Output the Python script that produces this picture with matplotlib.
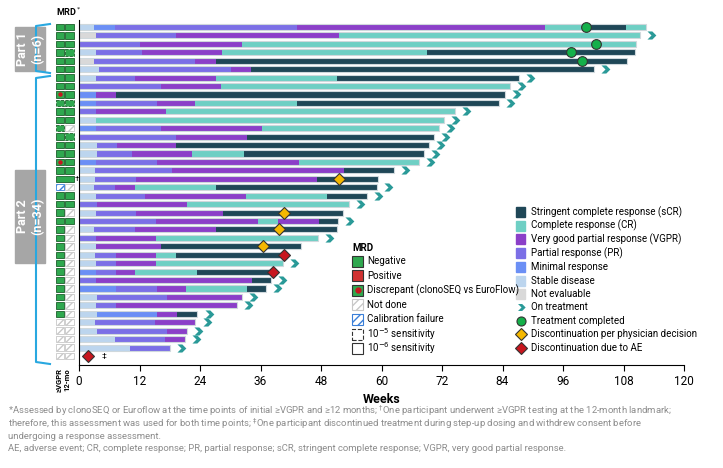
import numpy as np
import matplotlib.pyplot as plt
import matplotlib.patches as mpatches
from matplotlib.path import Path

plt.rcParams['font.family'] = ['Roboto', 'DejaVu Sans']

# response codes: S=sCR C=CR V=VGPR P=PR M=MR D=SD N=NE
colors = {'S': '#1f4757', 'C': '#6ecfc4', 'V': '#8b3fc8', 'P': '#7b6fe6',
          'M': '#6b8ff5', 'D': '#bcd5ee', 'N': '#d9d9d9'}

seg_codes = [
    'DMPVCSC', 'NPVC', 'PVC', 'DPVCS', 'NPVS', 'DPVS',
    'DPVCS', 'PVC', 'MVS', 'MPVCS', 'PVC', 'DC', 'MPVC', 'PVS', 'DPVS', 'DPVCS', 'MPVC',
    'DPVS', 'DPVS', 'DPVCS', 'DPVCS', 'PVC', 'DPVS', 'PVCVS', 'DPVS', 'PVC', 'DVS',
    'DPVCS', 'DPVC', 'MPVCS', 'PVS', 'MPVCS', 'DPV', 'DPV', 'DMVS', 'DPV', 'DPV', 'DPV', 'DP', '',
]
seg_ends = [
    [3, 7.1, 43.2, 92.5, 101.5, 108.5, 112.4], [3.3, 19.2, 51.6, 111.3], [12, 32.4, 110.4],
    [3.3, 12.4, 28.4, 69.1, 110.3], [3, 23.1, 27.2, 108.6], [4, 30.2, 34.1, 102.2],
    [3.3, 11.2, 27.2, 51.1, 87.2], [16.3, 28.2, 85.4], [3.3, 7.3, 84.5],
    [3.3, 15.4, 23.1, 43.3, 83.3], [3.3, 17.3, 74.6], [3.3, 72.3],
    [3.3, 16.3, 36.2, 71.4], [19.2, 33.3, 70.4], [3.5, 7.5, 19.2, 69.4],
    [3.5, 10.5, 22.4, 32.7, 68.5], [3.3, 15.4, 43.7, 67.5],
    [3.2, 18.5, 52.5, 62.5], [3.2, 11.3, 47.2, 59.4], [3, 7.1, 11.1, 27.2, 59.1],
    [3.3, 13.1, 33.1, 49.2, 57.1], [3.5, 21.4, 53.5], [3.3, 11.3, 28.6, 52.4],
    [15.2, 35.5, 39.5, 47.7, 51.4], [3, 11.1, 27.2, 51.1], [3.3, 15.3, 47.4],
    [3.3, 16.3, 44.1], [3.2, 7.3, 15.2, 19.2, 41.3], [3.3, 7.3, 15.3, 40.5],
    [3.3, 7.3, 11.2, 23.4, 38.5], [3.3, 34.3, 38.0], [7.3, 15.4, 21.2, 33.3, 37.1],
    [3.5, 17.5, 32.3], [3.3, 7.3, 31.3], [3.6, 15.5, 19.4, 23.5], [3.2, 15.1, 23.1],
    [3.5, 17.5, 21.5], [7.1, 17.1, 21.1], [10.2, 18.1], [],
]
on_treatment = [0, 1, 0, 0, 0, 1,
                1, 1, 1, 1, 1, 1, 1, 1, 1, 1, 1,
                1, 0, 1, 1, 1, 0, 1, 0, 1, 0,
                0, 1, 0, 1, 1, 1, 1, 1, 1, 1, 1, 1, 0]
# events: (row, week, kind) kind: c=completed, y=physician, r=AE
events = [(1, 100.6, 'c'), (3, 102.5, 'c'), (4, 97.5, 'c'), (5, 99.7, 'c'),
          (19, 51.6, 'y'), (23, 40.6, 'y'), (25, 39.7, 'y'), (27, 36.5, 'y'),
          (28, 40.6, 'r'), (30, 38.4, 'r'), (40, 1.8, 'r')]
# MRD status at >=VGPR and 12 mo: G neg, g neg 10^-5, D discrepant, N not done, C calibration failure
mrd_first = list('GGGGGGGGDgGGgGGGDGGCGGGGGGGGGGGGGGGNNNNN')
mrd_second = list('GGGgGGGGGgGGNgGGGGGNGGNGNNNNNNNNNNNNNNNN')

fig = plt.figure(figsize=(7.23, 4.68), dpi=100)
ax = fig.add_axes([79 / 723, 1 - 365 / 468, 605 / 723, 345 / 468])
n = len(seg_codes)
rows = np.arange(1, n + 1)
h = 0.72
for r, codes, ends in zip(rows, seg_codes, seg_ends):
    left = 0
    for c, e in zip(codes, ends):
        ax.barh(r, e - left, left=left, height=h, color=colors[c], edgecolor='none')
        left = e
    if ends:
        ax.barh(r, ends[-1], height=h, color='none', edgecolor='#cfd8dc', linewidth=0.8)

chevron = Path([(-0.5, 0.5), (0.1, 0.5), (0.6, 0), (0.1, -0.5), (-0.5, -0.5), (0, 0), (-0.5, 0.5)],
               [1, 2, 2, 2, 2, 2, 79])
for r, ends, on in zip(rows, seg_ends, on_treatment):
    if on:
        ax.plot(ends[-1] + 2.2, r, marker=chevron, ms=7, color='#2a9a98', mec='none')

ev_style = {'c': dict(marker='o', color='#14b04a', ms=7),
            'y': dict(marker='D', color='#f5b800', ms=6.5),
            'r': dict(marker='D', color='#c8161e', ms=6.5)}
for r, w, k in events:
    ax.plot(w, r, mec='#333333', mew=0.8, linestyle='none', zorder=5, **ev_style[k])
ax.text(4.5, 40, '‡', va='center', fontsize=6)

# MRD squares
def mrd_box(x0, r, s, wid=1.7):
    y0 = r - 0.38
    fc = {'G': '#2fa84f', 'g': '#2fa84f', 'D': '#2fa84f', 'N': 'white', 'C': 'white'}[s]
    hatch = {'N': '////', 'C': '////'}.get(s)
    hc = '#c8c8c8' if s == 'N' else '#3a7fd8'
    p = mpatches.Rectangle((x0, y0), wid, 0.76, facecolor=fc, edgecolor=hc if hatch else '#1d5e2c',
                           lw=0.6, hatch=hatch, clip_on=False, linestyle='--' if s == 'g' else '-')
    ax.add_patch(p)
    if s == 'D':
        ax.plot(x0 + wid / 2, r, 'o', color='#c8161e', ms=2.2, clip_on=False)

for r, a, b in zip(rows, mrd_first, mrd_second):
    if r == 19:
        mrd_box(-4.6, r, 'G', wid=3.6)
        ax.text(-0.9, r, '†', va='center', fontsize=6)
        continue
    mrd_box(-4.6, r, a)
    mrd_box(-2.7, r, b)

ax.set_xlim(0, 120)
ax.set_ylim(41.07, 0.17)
ax.set_xticks(np.arange(0, 121, 12))
ax.tick_params(axis='x', labelsize=8.5, length=4)
ax.set_yticks([])
for s in ['top', 'right']:
    ax.spines[s].set_visible(False)
ax.set_xlabel('Weeks', fontsize=9, fontweight='bold', labelpad=3)

fig.text(56 / 723, 1 - 12 / 468, 'MRD$^*$', fontsize=6.5, fontweight='bold', va='center')
fig.text(59 / 723, 1 - 380 / 468, '≥VGPR', fontsize=5.5, rotation=90, ha='center', va='center', fontweight='bold')
fig.text(67 / 723, 1 - 380 / 468, '12-mo', fontsize=5.5, rotation=90, ha='center', va='center', fontweight='bold')

# part labels and brackets
def fy(p):
    return 1 - p / 468
for (y0, y1, by0, by1, lab) in [(27, 71, 24, 73, 'Part 1\n(n=6)'), (170, 263, 76, 364, 'Part 2\n(n=34)')]:
    fig.patches.append(mpatches.Rectangle((15 / 723, fy(y1)), 30 / 723, (y1 - y0) / 468,
                                          transform=fig.transFigure, color='#a6a6a6'))
    fig.text(30 / 723, fy((y0 + y1) / 2), lab, rotation=90, ha='center', va='center',
             color='white', fontsize=9, fontweight='bold')
    fig.lines.append(plt.Line2D([50 / 723, 36 / 723, 36 / 723, 50 / 723],
                                [fy(by0), fy(by0 + 2), fy(by1 - 2), fy(by1)],
                                transform=fig.transFigure, color='#29a8e0', lw=1.5))

# response legend
resp = [('S', 'Stringent complete response (sCR)'), ('C', 'Complete response (CR)'),
        ('V', 'Very good partial response (VGPR)'), ('P', 'Partial response (PR)'),
        ('M', 'Minimal response'), ('D', 'Stable disease'), ('N', 'Not evaluable')]
for i, (c, t) in enumerate(resp):
    y = 212 + i * 13.7
    fig.patches.append(mpatches.Rectangle((516 / 723, fy(y + 5)), 9 / 723, 10 / 468,
                                          transform=fig.transFigure, color=colors[c]))
    fig.text(531 / 723, fy(y), t, fontsize=7, va='center')
ev_leg = [('On treatment', None), ('Treatment completed', 'c'),
          ('Discontinuation per physician decision', 'y'), ('Discontinuation due to AE', 'r')]
for i, (t, k) in enumerate(ev_leg):
    y = 307 + i * 13.7
    if k is None:
        fig.lines.append(plt.Line2D([520.5 / 723], [fy(y)], marker=chevron, ms=6, color='#2a9a98',
                                    mec='none', transform=fig.transFigure))
    else:
        st = dict(ev_style[k]); st['ms'] = st['ms'] - 0.5
        fig.lines.append(plt.Line2D([520.5 / 723], [fy(y)], mec='#333333', mew=0.8,
                                    transform=fig.transFigure, **st))
    fig.text(531 / 723, fy(y), t, fontsize=7, va='center')

# MRD legend
fig.text(352 / 723, fy(248), 'MRD', fontsize=7, fontweight='bold', va='center')
mrd_leg = [('G', 'Negative'), ('R', 'Positive'), ('D', 'Discrepant (clonoSEQ vs EuroFlow)'),
           ('N', 'Not done'), ('C', 'Calibration failure'), ('g', '10$^{-5}$ sensitivity'),
           ('w', '10$^{-6}$ sensitivity')]
for i, (s, t) in enumerate(mrd_leg):
    y = 261 + i * 14.6
    fc = {'G': '#2fa84f', 'R': '#d03232', 'D': '#2fa84f', 'N': 'white', 'C': 'white',
          'g': 'white', 'w': 'white'}[s]
    ec = {'N': '#c8c8c8', 'C': '#3a7fd8'}.get(s, '#333333')
    fig.patches.append(mpatches.Rectangle((352 / 723, fy(y + 5.5)), 11 / 723, 11 / 468,
                                          transform=fig.transFigure, facecolor=fc, edgecolor=ec,
                                          lw=0.8, hatch='////' if s in 'NC' else None,
                                          linestyle='--' if s == 'g' else '-'))
    if s == 'D':
        fig.lines.append(plt.Line2D([357.5 / 723], [fy(y)], marker='o', color='#c8161e', ms=3.5,
                                    transform=fig.transFigure))
    fig.text(367 / 723, fy(y), t, fontsize=7, va='center')

foot = ['*Assessed by clonoSEQ or Euroflow at the time points of initial ≥VGPR and ≥12 months; $^†$One participant underwent ≥VGPR testing at the 12-month landmark;',
        'therefore, this assessment was used for both time points; $^‡$One participant discontinued treatment during step-up dosing and withdrew consent before',
        'undergoing a response assessment.',
        'AE, adverse event; CR, complete response; PR, partial response; sCR, stringent complete response; VGPR, very good partial response.']
for i, t in enumerate(foot):
    fig.text(8 / 723, fy(411 + i * 12.6), t, fontsize=6.8, color='#8c8c8c', va='center')

fig.savefig('out.png', dpi=100)
